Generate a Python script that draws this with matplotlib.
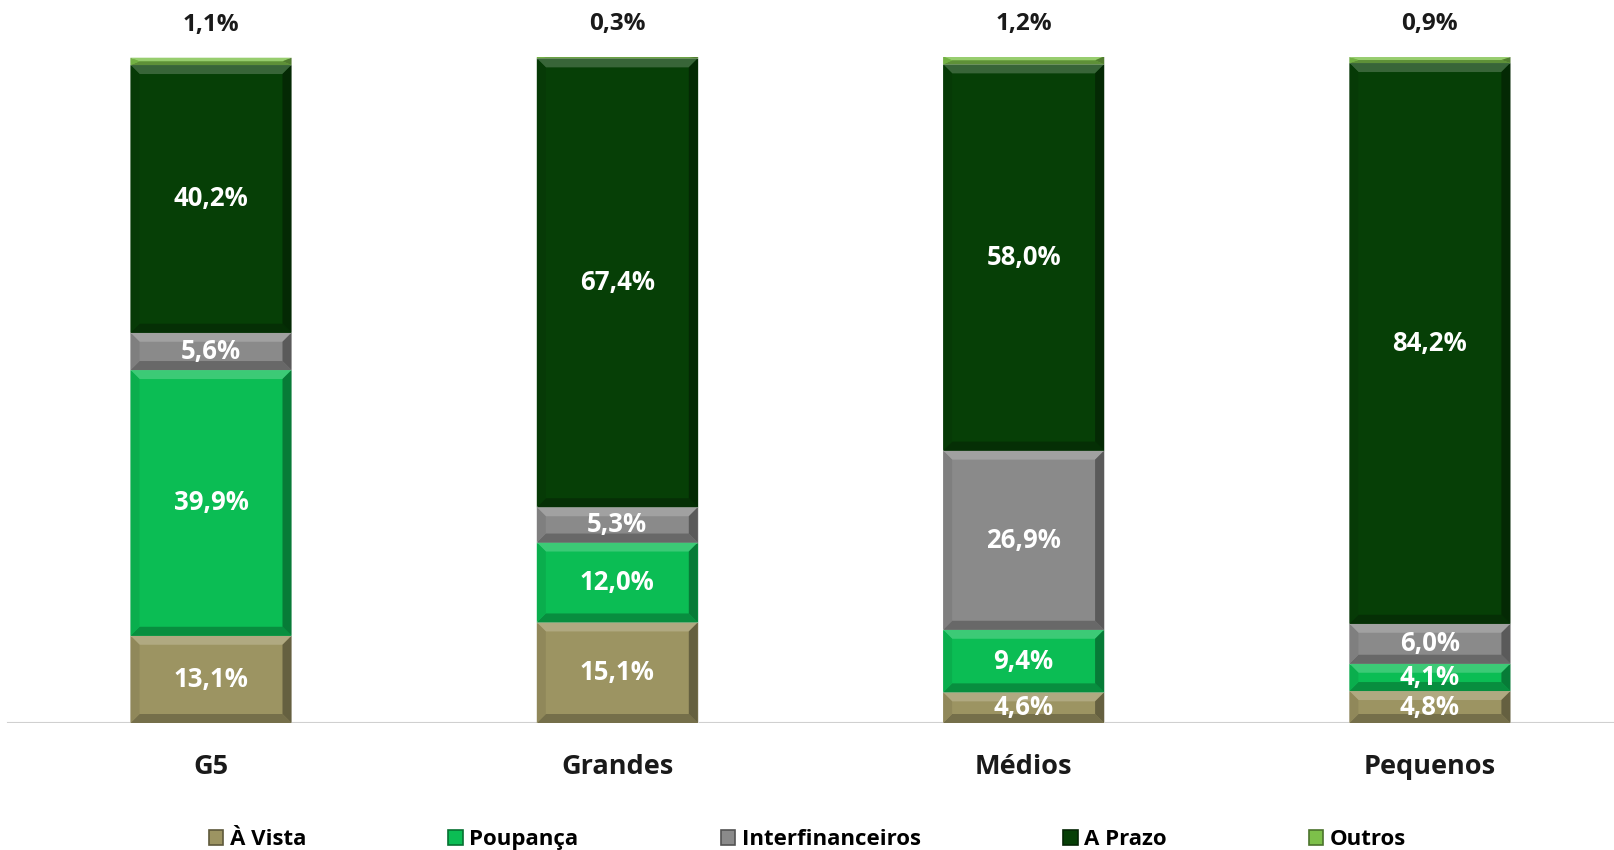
import numpy as np
import matplotlib.pyplot as plt
from matplotlib.patches import Polygon, Patch
from matplotlib.colors import to_rgb

plt.rcParams['font.family'] = ['Open Sans', 'DejaVu Sans']
plt.rcParams['font.weight'] = 'bold'

# === Data ===
groups = ["G5", "Grandes", "Médios", "Pequenos"]
series = ["À Vista", "Poupança", "Interfinanceiros", "A Prazo", "Outros"]
a_vista = [13.1, 15.1, 4.6, 4.8]
poupanca = [39.9, 12.0, 9.4, 4.1]
interfin = [5.6, 5.3, 26.9, 6.0]
a_prazo = [40.2, 67.4, 58.0, 84.2]
outros = [1.1, 0.3, 1.2, 0.9]

colors = ['#9C9462', '#0BBD54', '#8A8A8A', '#063F06', '#7DC04A']


def shade(c, f):
    r = np.array(to_rgb(c))
    if f >= 0:
        return tuple(r + (1 - r) * f)
    return tuple(r * (1 + f))


fig = plt.figure(figsize=(16.15, 8.5), dpi=100)
ax = fig.add_axes([0, 0.1494, 1, 0.7835])
px_x = 406.3   # pixels per x unit
px_y = 6.66    # pixels per percent
ax.set_xlim(-211 / px_x, (1615 - 211) / px_x)
ax.set_ylim(0, 100)

x = np.arange(len(groups))
width = 161 / px_x
bottoms = np.zeros(len(groups))
data = [a_vista, poupanca, interfin, a_prazo, outros]

for i, vals in enumerate(data):
    vals = np.array(vals)
    bars = ax.bar(x, vals, width, bottom=bottoms, color=colors[i],
                  edgecolor='#E8E8E8', linewidth=0.6, zorder=2)
    # bevel edges on every segment
    for b in bars:
        x0, y0 = b.get_x(), b.get_y()
        w, h = b.get_width(), b.get_height()
        bx = 9 / px_x
        by = min(9 / px_y, h / 2)
        x1, y1 = x0 + w, y0 + h
        faces = [
            ([(x0, y1), (x1, y1), (x1 - bx, y1 - by), (x0 + bx, y1 - by)], 0.2),
            ([(x0, y0), (x1, y0), (x1 - bx, y0 + by), (x0 + bx, y0 + by)], -0.25),
            ([(x0, y0), (x0, y1), (x0 + bx, y1 - by), (x0 + bx, y0 + by)], -0.08),
            ([(x1, y0), (x1, y1), (x1 - bx, y1 - by), (x1 - bx, y0 + by)], -0.35),
        ]
        for pts, f in faces:
            ax.add_patch(Polygon(pts, closed=True, facecolor=shade(colors[i], f),
                                 edgecolor='none', zorder=3))
    if i < 4:
        for xi, v, bt in zip(x, vals, bottoms):
            ax.text(xi, bt + v / 2, f"{v:.1f}%".replace('.', ','), ha='center',
                    va='center', color='white', fontsize=18.5, fontweight='bold', zorder=4)
    else:
        for xi, v, bt in zip(x, vals, bottoms):
            ax.text(xi, bt + v + 4.9, f"{v:.1f}%".replace('.', ','), ha='center',
                    va='center', color='#1A1A1A', fontsize=17.5, fontweight='bold', zorder=4)
    bottoms += vals

ax.axhline(0, xmin=0.005, xmax=1, color='#D0D0D0', linewidth=1.5, zorder=1)
for s in ax.spines.values():
    s.set_visible(False)
ax.set_yticks([])
ax.set_xticks(x)
ax.set_xticklabels(groups, fontsize=19.5, fontweight='bold', color='#1A1A1A')
ax.tick_params(axis='x', length=0, pad=22)

handles = [Patch(facecolor=c, edgecolor=shade(c, -0.4), linewidth=1.2) for c in colors]
fig.legend(handles, series, loc='center', bbox_to_anchor=(0.5, 0.012), ncol=5,
           frameon=False, handlelength=0.65, handleheight=0.65,
           handletextpad=0.3, columnspacing=6.4, prop={'weight': 'bold', 'size': 16})

fig.savefig('out.png', dpi=100, facecolor='white')
